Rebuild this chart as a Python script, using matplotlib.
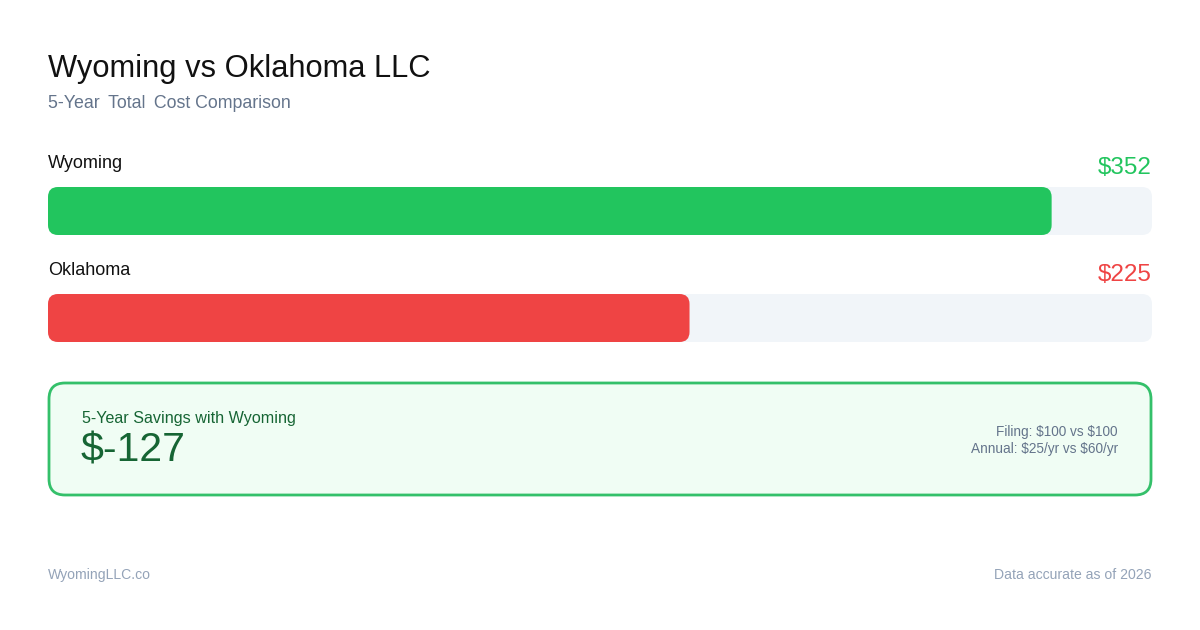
import matplotlib.pyplot as plt
from matplotlib.patches import FancyBboxPatch

plt.rcParams['font.family'] = ['Liberation Sans', 'DejaVu Sans']
plt.rcParams['text.parse_math'] = False

title = 'Wyoming vs Oklahoma LLC'
subtitle = '5-Year \u2009Total \u2009Cost Comparison'
states = ['Wyoming', 'Oklahoma']
totals = [352, 225]
colors = ['#22c55e', '#ef4444']
savings = -127
filing = [100, 100]
annual = [25, 60]

W, H = 1200, 630
fig = plt.figure(figsize=(12, 6.3), dpi=100)
ax = fig.add_axes([0, 0, 1, 1])
ax.set_xlim(0, W)
ax.set_ylim(H, 0)
ax.axis('off')

ax.text(48, 77, title, fontsize=22.2, color='#111111', va='baseline')
ax.text(48, 108, subtitle, fontsize=12.8, color='#64748b', va='baseline')

left, right = 48, 1152
track_w = right - left
vmax = max(totals) * 1.1
for i, (name, val, c) in enumerate(zip(states, totals, colors)):
    top = 187 + i * 107
    ax.text(left, top - 19, name, fontsize=13, color='#111111', va='baseline')
    ax.text(right, top - 13, f'${val}', fontsize=17.5, color=c, va='baseline', ha='right')
    ax.add_patch(FancyBboxPatch((left, top), track_w, 48,
                                boxstyle='round,pad=0,rounding_size=10',
                                fc='#f1f5f9', ec='none'))
    ax.add_patch(FancyBboxPatch((left, top), val / vmax * track_w, 48,
                                boxstyle='round,pad=0,rounding_size=10',
                                fc=c, ec='none'))

ax.add_patch(FancyBboxPatch((49, 383), 1102, 112,
                            boxstyle='round,pad=0,rounding_size=16',
                            fc='#f0fdf4', ec='#34c06a', lw=2))
ax.text(82, 423, '5-Year Savings with Wyoming', fontsize=11.6, color='#166534', va='baseline')
ax.text(81, 462, f'${savings}', fontsize=29.5, color='#166534', va='baseline')
ax.text(1118, 436, f'Filing: ${filing[0]} vs ${filing[1]}', fontsize=9.8,
        color='#64748b', va='baseline', ha='right')
ax.text(1118, 453, f'Annual: ${annual[0]}/yr vs ${annual[1]}/yr', fontsize=9.8,
        color='#64748b', va='baseline', ha='right')

ax.text(48, 579, 'WyomingLLC.co', fontsize=10.1, color='#94a3b8', va='baseline')
ax.text(1152, 579, 'Data accurate as of 2026', fontsize=10.1, color='#94a3b8',
        va='baseline', ha='right')

fig.savefig('out.png', dpi=100, facecolor='white')
